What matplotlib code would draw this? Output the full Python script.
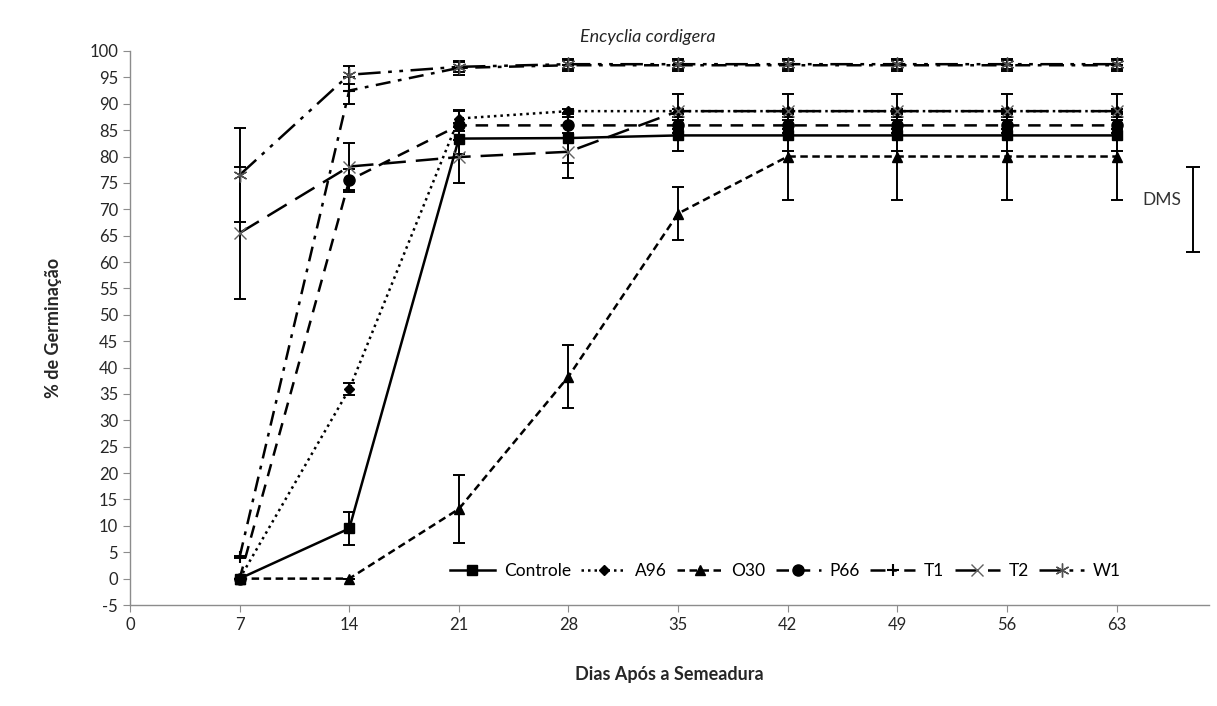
import numpy as np
import matplotlib
matplotlib.use("Agg")
import matplotlib.pyplot as plt

plt.rcParams['font.family'] = ['Lato', 'DejaVu Sans']
plt.rcParams['axes.unicode_minus'] = False

# days after sowing
dias = [7, 14, 21, 28, 35, 42, 49, 56, 63]

# % germination and error per treatment
controle = [0, 9.5, 83.4, 83.5, 84, 84, 84, 84, 84]
controle_err = [0, 3.1, 3, 4.8, 3, 3, 3, 3, 3]
a96 = [0, 35.9, 87.2, 88.6, 88.6, 88.6, 88.6, 88.6, 88.6]
a96_err = [0, 1.1, 1.6, 0.5, 0.5, 0.5, 0.5, 0.5, 0.5]
o30 = [0, 0, 13.2, 38.3, 69.2, 80, 80, 80, 80]
o30_err = [0, 0, 6.4, 5.9, 5.0, 8.3, 8.3, 8.3, 8.3]
p66 = [0, 75.5, 85.9, 85.9, 85.9, 85.9, 85.9, 85.9, 85.9]
p66_err = [0, 2.2, 2.8, 1.5, 1.5, 1.5, 1.5, 1.5, 1.5]
t1 = [4.1, 92.5, 96.8, 97.3, 97.3, 97.3, 97.3, 97.3, 97.3]
t1_err = [0.2, 2.5, 1.3, 1.0, 1.0, 1.0, 1.0, 1.0, 1.0]
t2 = [65.5, 78.1, 79.9, 80.9, 88.6, 88.6, 88.6, 88.6, 88.6]
t2_err = [12.5, 4.5, 4.9, 5.0, 3.3, 3.3, 3.3, 3.3, 3.3]
w1 = [76.5, 95.5, 97.0, 97.5, 97.5, 97.5, 97.5, 97.5, 97.5]
w1_err = [8.9, 1.7, 1.0, 0.9, 0.9, 0.9, 0.9, 0.9, 0.9]

# least significant difference bar
dms_centro = 70
dms_meia = 8.05

fig = plt.figure(figsize=(12.17, 7.06), dpi=100)
ax = fig.add_axes([130/1217, 101/706, 1079/1217, 554/706])

series = [
    ('Controle', controle, controle_err, '-', 's', 7, 'black', 'black', 1),
    ('A96', a96, a96_err, (0, (1, 1.6)), 'D', 5, 'black', 'black', 1),
    ('O30', o30, o30_err, (0, (3, 1.8)), '^', 7, 'black', 'black', 1),
    ('P66', p66, p66_err, (0, (5, 3.5)), 'o', 8, 'black', 'black', 1),
    ('T1', t1, t1_err, (0, (6, 3, 1.5, 3)), '+', 9, 'black', 'black', 1.5),
    ('T2', t2, t2_err, (0, (9, 4)), 'x', 9, 'none', '#606060', 1),
    ('W1', w1, w1_err, (0, (9, 3, 1.5, 3, 1.5, 3)), (6, 2, 0), 10, 'none', '#505050', 1),
]

for nome, y, e, ls, mk, ms, mfc, mec, mew in series:
    ax.errorbar(dias, y, yerr=e, fmt='none', ecolor='black', elinewidth=1.4,
                capsize=4, capthick=1.4, zorder=2)
    ax.plot(dias, y, linestyle=ls, color='black', lw=1.8, marker=mk,
            markersize=ms, markerfacecolor=mfc, markeredgecolor=mec,
            markeredgewidth=mew, label=nome, zorder=3)

ax.errorbar([67.9], [dms_centro], yerr=[dms_meia], fmt='none', ecolor='black',
            elinewidth=1.4, capsize=5, capthick=1.4)
ax.text(67.1, dms_centro + 1.7, 'DMS', ha='right', va='center', fontsize=12.5,
        color='#333333')

ax.set_xlim(0, 68.9)
ax.set_ylim(-5, 100)
ax.set_xticks(np.arange(0, 64, 7))
ax.set_yticks(np.arange(-5, 101, 5))

for s in ['top', 'right']:
    ax.spines[s].set_visible(False)
for s in ['left', 'bottom']:
    ax.spines[s].set_color('#8c8c8c')
    ax.spines[s].set_linewidth(1)
ax.tick_params(axis='both', colors='#8c8c8c', labelcolor='#262626',
               labelsize=12, length=5, direction='out')

ax.set_xlabel('Dias Após a Semeadura', fontsize=13, fontweight='bold',
              labelpad=24, color='#262626')
ax.set_ylabel('% de Germinação', fontsize=13, fontweight='bold',
              labelpad=20, color='#262626')
fig.text(648/1217, 1 - 37/706, 'Encyclia cordigera', ha='center', va='center',
         fontsize=13, fontstyle='italic', color='#262626')

ax.legend(loc='center right', bbox_to_anchor=(0.925, 0.062), ncol=7,
          frameon=False, fontsize=12.5, handlelength=2.6, handletextpad=0.5,
          columnspacing=0.6, borderaxespad=0)

fig.savefig('out.png', dpi=100)
